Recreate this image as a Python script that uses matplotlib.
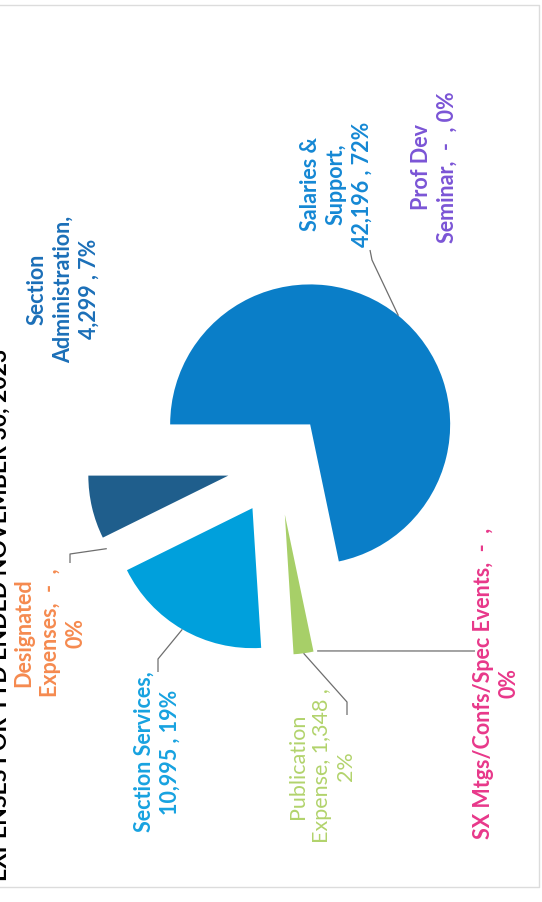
import matplotlib
matplotlib.use("Agg")
import numpy as np
import matplotlib.pyplot as plt

# chart data (page was scanned sideways, so everything is drawn rotated 90 degrees)
title = "EXPENSES FOR YTD ENDED NOVEMBER 30, 2023"
categories = ["Salaries & Support", "Prof Dev Seminar", "SX Mtgs/Confs/Spec Events",
              "Publication Expense", "Section Services", "Designated Expenses",
              "Section Administration"]
values = [42196, 0, 0, 1348, 10995, 0, 4299]
wedge_colors = ["#0a7ec8", "#7b55d6", "#e8388a", "#a7cf68", "#00a0dc", "#f58a4f", "#1f5e8c"]
label_colors = ["#1588d4", "#7b55d6", "#e8388a", "#b2d36c", "#17a2e0", "#f58a4f", "#1b6fb8"]
label_weights = ["bold", "bold", "bold", "normal", "bold", "bold", "bold"]
# how each data label breaks over lines
label_layout = ["Salaries &\nSupport,\n{v} , {p}",
                "Prof Dev\nSeminar, {v} , {p}",
                "SX Mtgs/Confs/Spec Events, {v} ,\n{p}",
                "Publication\nExpense, {v} ,\n{p}",
                "Section Services,\n{v} , {p}",
                "Designated\nExpenses, {v} ,\n{p}",
                "Section\nAdministration,\n{v} , {p}"]

W, H = 542, 903
# label centres in picture pixels (x, y from top)
label_pos = [(336, 184), (434, 167), (496, 683), (322, 766), (157, 752), (50, 633), (63, 289)]
# leader lines: elbow and end next to the label, None = no leader
leaders = [((372, 261), (370, 251)), None, ((475, 652), (475, 652)), ((347, 703), (347, 716)),
           ((158, 660), (158, 673)), ((70, 555), (70, 564)), None]

total = sum(values)

fig = plt.figure(figsize=(W / 100, H / 100), dpi=100)
ax = fig.add_axes([0, 0, 1, 1])

wedges, _ = ax.pie(values, colors=wedge_colors, radius=140, center=(278, H - 465),
                   startangle=180, counterclock=False, explode=[51] * len(values),
                   wedgeprops=dict(linewidth=0))
ax.set_xlim(0, W)
ax.set_ylim(0, H)
ax.set_aspect("equal")
ax.axis("off")

font = ["Lato", "DejaVu Sans"]

for i, val in enumerate(values):
    v = f"{val:,}" if val else " - "
    p = f"{round(100 * val / total)}%"
    txt = label_layout[i].format(v=v, p=p)
    x, y = label_pos[i]
    ax.text(x, H - y, txt, rotation=90, ha="center", va="center", multialignment="center",
            linespacing=1.28, color=label_colors[i], fontsize=15.5,
            fontweight=label_weights[i], family=font)
    if leaders[i] is not None:
        w = wedges[i]
        th = np.deg2rad((w.theta1 + w.theta2) / 2)
        ex = w.center[0] + w.r * np.cos(th)
        ey = w.center[1] + w.r * np.sin(th)
        (bx, by), (cx, cy) = leaders[i]
        ax.plot([ex, bx, cx], [ey, H - by, H - cy], color="#6e6e6e", lw=0.9,
                solid_capstyle="butt")

ax.text(11, H - 615, title, rotation=90, ha="right", va="center", color="black",
        fontsize=16.5, fontweight="bold", family=font)

# faint scan border
ax.plot([-5, 539, 539, -5], [H - 6, H - 6, H - 888, H - 888], color="#dcdcdc", lw=1)

fig.savefig("out.png", dpi=100)
